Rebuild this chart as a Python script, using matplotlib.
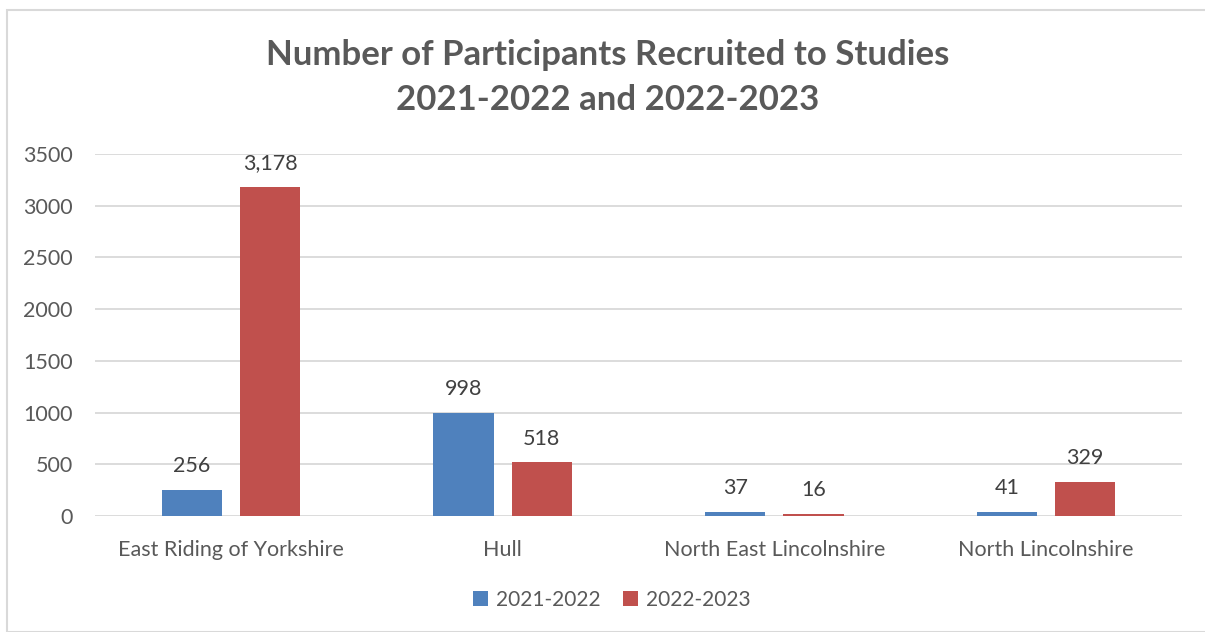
import numpy as np
import matplotlib.pyplot as plt
from matplotlib.patches import Rectangle

plt.rcParams['font.family'] = ['Lato', 'DejaVu Sans']

categories = ["East Riding of Yorkshire", "Hull", "North East Lincolnshire", "North Lincolnshire"]
series_names = ["2021-2022", "2022-2023"]
values_2122 = [256, 998, 37, 41]
values_2223 = [3178, 518, 16, 329]
yticks = [0, 500, 1000, 1500, 2000, 2500, 3000, 3500]

COLORS = ["#4F81BD", "#C0504D"]
TEXT = "#595959"
GRID = "#D9D9D9"

fig = plt.figure(figsize=(12.05, 6.32), dpi=100)
ax = fig.add_axes([95 / 1205, 1 - 516 / 632, 1087 / 1205, (516 - 154) / 632])

# chart border
fig.patches.append(Rectangle((7 / 1205, 0), 1.0, 1 - 10 / 632, transform=fig.transFigure,
                             fill=False, edgecolor=GRID, linewidth=1.5))

x = np.arange(len(categories))
w = 0.221
off = 0.144
for i, (vals, name) in enumerate(zip([values_2122, values_2223], series_names)):
    bars = ax.bar(x + (-off if i == 0 else off), vals, width=w, color=COLORS[i], label=name, zorder=3)
    for b, v in zip(bars, vals):
        ax.annotate(f"{v:,}", (b.get_x() + b.get_width() / 2, v), xytext=(0, 10),
                    textcoords="offset points", ha="center", va="bottom",
                    fontsize=15.5, color="#404040")

ax.set_xlim(-0.5, 3.5)
ax.set_ylim(0, 3500)
ax.set_yticks(yticks)
ax.set_xticks(x)
ax.set_xticklabels(categories)
ax.grid(axis="y", color=GRID, linewidth=1.3, zorder=0)
ax.tick_params(length=0, labelsize=15.5, labelcolor=TEXT)
ax.tick_params(axis="y", pad=16)
ax.tick_params(axis="x", pad=17)
for s in ax.spines.values():
    s.set_visible(False)

fig.text(608 / 1205, 1 - 55 / 632, "Number of Participants Recruited to Studies", ha="center", va="center",
         fontsize=25, fontweight="bold", color=TEXT)
fig.text(608 / 1205, 1 - 100 / 632, "2021-2022 and 2022-2023", ha="center", va="center",
         fontsize=25, fontweight="bold", color=TEXT)

fig.legend(loc="center", bbox_to_anchor=(612 / 1205, 1 - 600 / 632), ncol=2, frameon=False,
           fontsize=15, labelcolor=TEXT, handlelength=0.7, handleheight=0.7, columnspacing=1.1,
           handletextpad=0.4)

fig.savefig("out.png", dpi=100)
